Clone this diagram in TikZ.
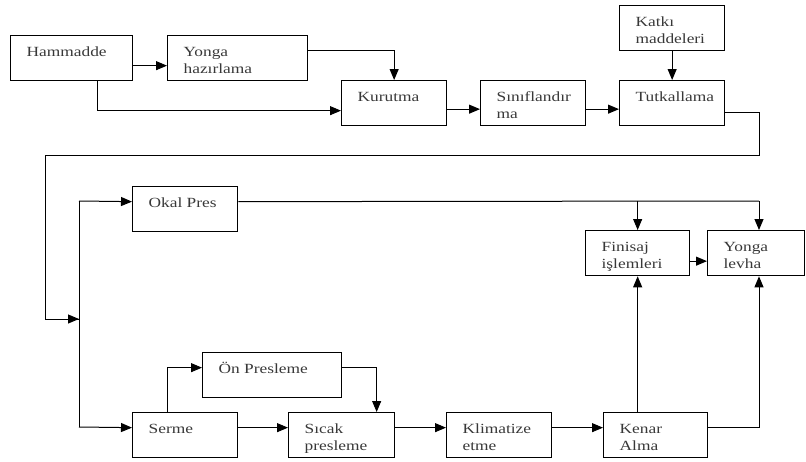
\documentclass[tikz,border=0pt]{standalone}
\usepackage{fontspec}
\setmainfont{Liberation Serif}
\usetikzlibrary{arrows.meta}
\newlength{\bxw}
\newcommand{\bxt}[2]{\setlength{\bxw}{#1}\scalebox{1.24}[1]{\parbox[c][45pt][t]{0.80645\bxw}{\fontsize{14}{17}\selectfont\raggedright\leftskip=12.9pt\rule{0pt}{21pt}#2}}}
\tikzset{
  stepbox/.style={draw, line width=1.3pt, inner sep=0pt, anchor=north west, text=black!78},
  conn/.style={line width=1pt, -{Triangle[length=11pt,width=9pt]}},
  plain/.style={line width=1pt}
}
\begin{document}
\begin{tikzpicture}[x=1pt,y=-1pt]
\useasboundingbox (0,0) rectangle (806,461);
% top row
\node[stepbox] (ham) at (10,35) {\bxt{122pt}{Hammadde}};
\node[stepbox] (yon) at (167,35) {\bxt{140pt}{Yonga\\hazırlama}};
\node[stepbox] (kur) at (341,80) {\bxt{105pt}{Kurutma}};
\node[stepbox] (sin) at (480,80) {\bxt{105pt}{Sınıflandır\\ma}};
\node[stepbox] (tut) at (619,80) {\bxt{105pt}{Tutkallama}};
\node[stepbox] (kat) at (619,5) {\bxt{105pt}{Katkı\\maddeleri}};
% middle
\node[stepbox] (oka) at (132,186) {\bxt{105pt}{Okal Pres}};
\node[stepbox] (fin) at (585,230) {\bxt{104pt}{Finisaj\\işlemleri}};
\node[stepbox] (lev) at (707,230) {\bxt{97pt}{Yonga\\levha}};
% bottom
\node[stepbox] (onp) at (202,352) {\bxt{139pt}{Ön Presleme}};
\node[stepbox] (ser) at (132,412) {\bxt{105pt}{Serme}};
\node[stepbox] (sic) at (288,412) {\bxt{106pt}{Sıcak\\presleme}};
\node[stepbox] (kli) at (446,412) {\bxt{105pt}{Klimatize\\etme}};
\node[stepbox] (ken) at (603,412) {\bxt{104pt}{Kenar\\Alma}};
% bus coordinates
\coordinate (bustop) at (79,201);
\coordinate (busbot) at (79,427);
\coordinate (busin) at (79,319);
\coordinate (loopr) at (759,155);
\coordinate (loopl) at (45,155);
\coordinate (okr) at (759,201);
% connectors top
\draw[conn] ([yshift=-7.5pt]ham.east) -- ([yshift=-7.5pt]yon.west);
\draw[conn] ([yshift=7.5pt]yon.east) -| (kur.north);
\draw[conn] ([xshift=26pt]ham.south) |- ([yshift=-7.5pt]kur.west);
\draw[conn] ([yshift=-6pt]kur.east) -- ([yshift=-6pt]sin.west);
\draw[conn] ([yshift=-6pt]sin.east) -- ([yshift=-6pt]tut.west);
\draw[conn] (kat.south) -- (kat.south |- tut.north);
% loop to bus
\draw[plain] ([yshift=-9pt]tut.east) -| (loopr) -- (loopl) |- (busin);
\draw[conn] (loopl |- busin) -- (busin);
\draw[plain] (bustop) -- (busbot);
\draw[conn] (bustop) -- ([yshift=7.5pt]oka.west);
\draw[conn] (busbot) -- ([yshift=7.5pt]ser.west);
% okal pres
\draw[plain] ([yshift=7.5pt]oka.east) -- (okr);
\draw[conn] (okr) -- (okr |- lev.north);
\draw[conn] (fin.north |- okr) -- (fin.north);
\draw[conn] ([yshift=-8pt]fin.east) -- ([yshift=-8pt]lev.west);
% bottom row
\draw[conn] ([xshift=-17.5pt]ser.north) |- ([yshift=7.5pt]onp.west);
\draw[conn] ([yshift=7.5pt]onp.east) -| ([xshift=35pt]sic.north);
\draw[conn] ([yshift=7.5pt]ser.east) -- ([yshift=7.5pt]sic.west);
\draw[conn] ([yshift=7.5pt]sic.east) -- ([yshift=7.5pt]kli.west);
\draw[conn] ([yshift=7.5pt]kli.east) -- ([yshift=7.5pt]ken.west);
\draw[conn] (ken.north -| fin.south) -- (fin.south);
\draw[conn] ([yshift=7.5pt]ken.east) -| (okr |- lev.south);
\end{tikzpicture}
\end{document}
